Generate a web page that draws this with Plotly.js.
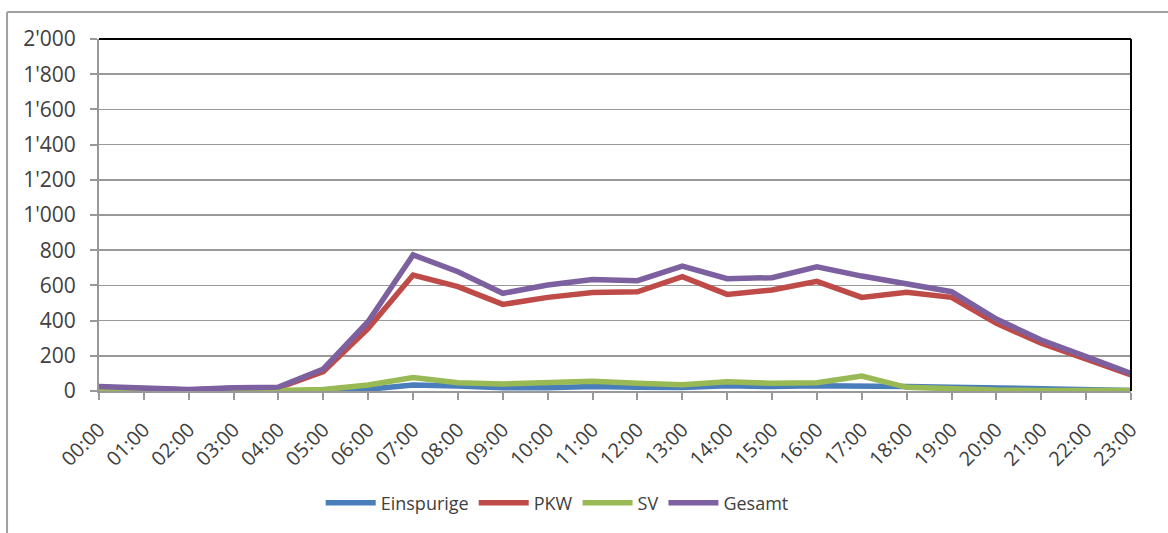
<!DOCTYPE html>
<html>
<head>
<meta charset="utf-8">
<script src="https://cdn.plot.ly/plotly-3.0.1.min.js"></script>
<style>
html,body{margin:0;padding:0;background:#fff;}
#chart{width:1168px;height:533px;}
</style>
</head>
<body>
<div id="chart"></div>
<script>
const hours = ["00:00","01:00","02:00","03:00","04:00","05:00","06:00","07:00","08:00","09:00","10:00","11:00","12:00","13:00","14:00","15:00","16:00","17:00","18:00","19:00","20:00","21:00","22:00","23:00"];
const einspurige = [2,1,1,1,2,2,10,34,28,19,19,25,22,20,30,25,30,30,25,22,18,10,5,3];
const pkw = [20,12,5,15,18,110,356,659,593,492,532,559,564,650,549,574,623,532,561,532,385,271,180,91];
const sv = [3,2,1,2,3,8,34,76,47,40,47,55,44,36,53,44,47,85,21,10,5,3,2,3];
const gesamt = [25,15,8,18,22,125,395,773,678,555,602,634,627,710,638,644,706,653,608,564,409,290,195,100];
const yTicks = [0,200,400,600,800,1000,1200,1400,1600,1800,2000];
const yTickText = ["0","200","400","600","800","1'000","1'200","1'400","1'600","1'800","2'000"];

const names = ["Einspurige","PKW","SV","Gesamt"];
const colors = ["#4A7EBB","#BE4B48","#98B954","#7D60A0"];
const series = [einspurige, pkw, sv, gesamt];

const traces = series.map((s,i)=>({
  x: hours, y: s, name: names[i], type:"scatter", mode:"lines",
  line:{color:colors[i], width:5.5}
}));

const FONT = "'Open Sans', sans-serif";
const TXT = "#404040";
const layout = {
  width:1168, height:533,
  margin:{l:99, r:37, t:39, b:142},
  paper_bgcolor:"#fff", plot_bgcolor:"#fff",
  font:{family:FONT, size:20, color:TXT},
  showlegend:true,
  legend:{orientation:"h", x:0.444, xanchor:"center", y:-0.318, yanchor:"middle",
    font:{family:FONT, size:18, color:TXT}, tracegroupgap:0, itemwidth:50},
  xaxis:{type:"category", range:[0,23], tickangle:-45, showgrid:false,
    showline:true, linecolor:"#999", linewidth:2,
    ticks:"outside", ticklen:7, tickcolor:"#999", tickwidth:2,
    ticklabelstandoff:10,
    tickfont:{family:FONT, size:20, color:TXT}, zeroline:false, fixedrange:true},
  yaxis:{range:[0,2000], tickvals:yTicks, ticktext:yTickText,
    showgrid:true, gridcolor:"#999", gridwidth:1.5,
    showline:true, linecolor:"#999", linewidth:2,
    ticks:"outside", ticklen:7, tickcolor:"#999", tickwidth:2,
    ticklabelstandoff:10,
    tickfont:{family:FONT, size:21, color:TXT}, zeroline:false, fixedrange:true},
  shapes:[
    {type:"line", xref:"paper", yref:"paper", x0:0, x1:1, y0:1, y1:1, line:{color:"#000", width:2}},
    {type:"line", xref:"paper", yref:"paper", x0:1, x1:1, y0:0, y1:1, line:{color:"#000", width:2}},
    {type:"line", xref:"paper", yref:"paper", x0:-0.0891, x1:1.2, y0:1.0767, y1:1.0767, line:{color:"#a0a0a0", width:2}},
    {type:"line", xref:"paper", yref:"paper", x0:-0.0891, x1:-0.0891, y0:1.0767, y1:-0.6, line:{color:"#a0a0a0", width:2}}
  ]
};
Plotly.newPlot("chart", traces, layout, {displayModeBar:false, staticPlot:true});
</script>
</body>
</html>
